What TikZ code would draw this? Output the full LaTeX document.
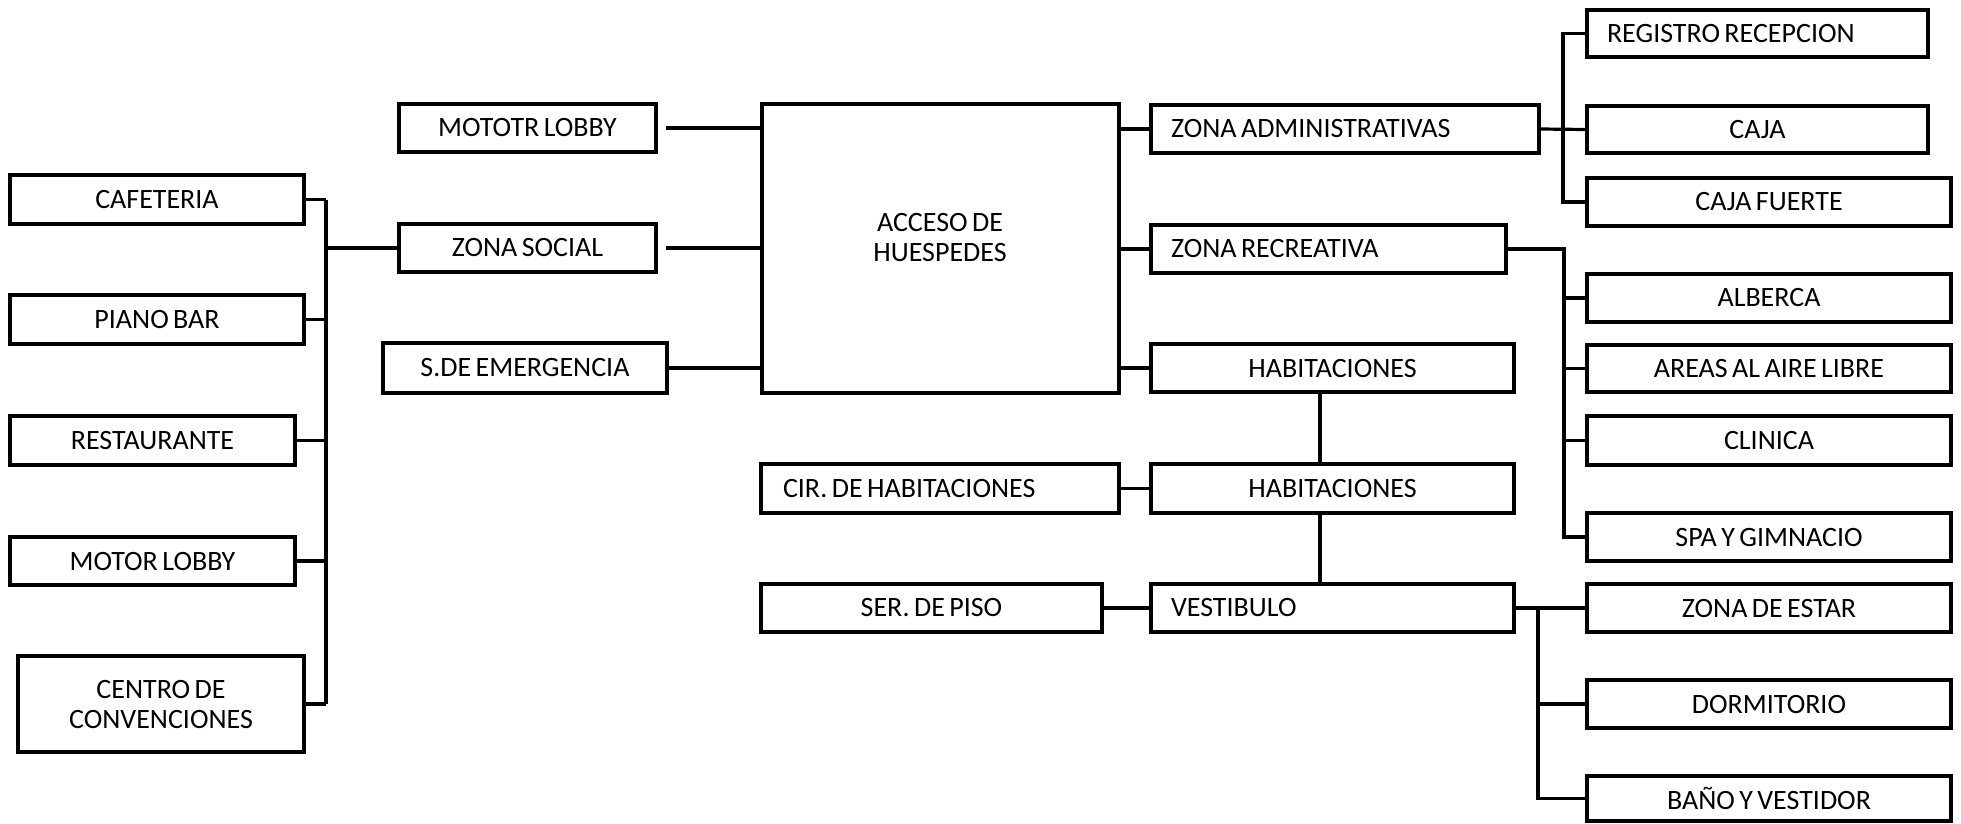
\documentclass[tikz,border=0pt]{standalone}
\usepackage{fontspec}
\setmainfont[WordSpace=0.7]{Carlito}
\newcommand\lefttext[2]{\makebox[#1][l]{#2}}
\begin{document}
\frenchspacing
\begin{tikzpicture}[x=1pt,y=-1pt,
  box/.style={draw, line width=3.4pt, inner xsep=0pt, inner ysep=0pt, align=center,
    minimum height=48pt, font=\fontsize{28}{30}\selectfont},
  wire/.style={line width=3.2pt}]
\useasboundingbox (0,0) rectangle (1961,823);
% left column
\node[box, minimum width=294pt, minimum height=49pt] (caf) at (157,199.5) {CAFETERIA};
\node[box, minimum width=294pt, minimum height=49pt] (piano) at (157,319.5) {PIANO BAR};
\node[box, minimum width=285pt, minimum height=49pt] (rest) at (152.5,440.5) {RESTAURANTE};
\node[box, minimum width=285pt] (motor) at (152.5,561) {MOTOR LOBBY};
\node[box, minimum width=286pt, minimum height=96pt] (centro) at (161,704) {CENTRO DE\\CONVENCIONES};
% second column
\node[box, minimum width=257pt] (mototr) at (527.5,128) {MOTOTR LOBBY};
\node[box, minimum width=257pt] (zsoc) at (527.5,248) {ZONA SOCIAL};
\node[box, minimum width=284pt, minimum height=50pt] (semerg) at (525,368) {S.DE EMERGENCIA};
% center
\node[box, minimum width=357pt, minimum height=289pt] (acceso) at (940.5,248.5) {};
\node[font=\fontsize{28}{30}\selectfont, align=center, inner sep=0pt] (accesotxt) at (940,238) {ACCESO DE\\HUESPEDES};
% third column
\node[box, minimum width=388pt] (zadmin) at (1345,129) {\lefttext{348pt}{ZONA ADMINISTRATIVAS}};
\node[box, minimum width=355pt] (zrec) at (1328.5,249) {\lefttext{315pt}{ZONA RECREATIVA}};
\node[box, minimum width=363pt] (hab1) at (1332.5,368) {HABITACIONES};
\node[box, minimum width=363pt, minimum height=49pt] (hab2) at (1332.5,488.5) {HABITACIONES};
\node[box, minimum width=358pt, minimum height=49pt] (cir) at (940,488.5) {\lefttext{314pt}{CIR. DE HABITACIONES}};
\node[box, minimum width=341pt] (ser) at (931.5,608) {SER. DE PISO};
\node[box, minimum width=363pt] (vest) at (1332.5,608) {\lefttext{323pt}{VESTIBULO}};
% right column
\node[box, minimum width=341pt, minimum height=47pt] (reg) at (1757.5,33.5) {\lefttext{301pt}{REGISTRO RECEPCION}};
\node[box, minimum width=341pt, minimum height=47pt] (caja) at (1757.5,129.5) {CAJA};
\node[box, minimum width=364pt] (cajaf) at (1769,202) {CAJA FUERTE};
\node[box, minimum width=364pt] (alb) at (1769,298) {ALBERCA};
\node[box, minimum width=364pt, minimum height=47pt] (areas) at (1769,368.5) {AREAS AL AIRE LIBRE};
\node[box, minimum width=364pt, minimum height=49pt] (clin) at (1769,440.5) {CLINICA};
\node[box, minimum width=364pt] (spa) at (1769,537) {SPA Y GIMNACIO};
\node[box, minimum width=364pt] (estar) at (1769,608) {ZONA DE ESTAR};
\node[box, minimum width=364pt] (dorm) at (1769,704) {DORMITORIO};
\node[box, minimum width=364pt, minimum height=45pt] (bano) at (1769,798.5) {BAÑO Y VESTIDOR};
% bus coordinates
\coordinate (lb) at (326,0);
\coordinate (ab) at (1563,0);
\coordinate (rb) at (1564,0);
\coordinate (vb) at (1538,0);
% left connectors
\foreach \n in {caf,piano,rest,motor,centro}
  \draw[wire] (\n.east) -- (\n.east -| lb);
\draw[wire] (caf.east -| lb) -- (centro.east -| lb);
\draw[wire] (zsoc.west -| lb) -- (zsoc.west);
% to acceso
\draw[wire] ([xshift=8pt]mototr.east) -- (mototr.east -| acceso.west);
\draw[wire] ([xshift=8pt]zsoc.east) -- (zsoc.east -| acceso.west);
\draw[wire] (semerg.east) -- (semerg.east -| acceso.west);
\draw[wire] (zadmin.west -| acceso.east) -- (zadmin.west);
\draw[wire] (zrec.west -| acceso.east) -- (zrec.west);
\draw[wire] (hab1.west -| acceso.east) -- (hab1.west);
\draw[wire] (cir.east) -- (hab2.west);
\draw[wire] (ser.east) -- (vest.west);
\draw[wire] ([xshift=-12.5pt]hab1.south) -- ([xshift=-12.5pt]hab2.north);
\draw[wire] ([xshift=-12.5pt]hab2.south) -- ([xshift=-12.5pt]vest.north);
% admin
\draw[wire] (zadmin.east) -- (caja.west);
\draw[wire] (reg.west) -- (reg.west -| ab) -- (cajaf.west -| ab) -- (cajaf.west);
% recreativa
\draw[wire] (zrec.east) -- (zrec.east -| rb) -- (spa.west -| rb) -- (spa.west);
\foreach \n in {alb,areas,clin}
  \draw[wire] (\n.west -| rb) -- (\n.west);
% vestibulo
\draw[wire] (vest.east) -- (estar.west);
\draw[wire] (vest.east -| vb) -- (bano.west -| vb) -- (bano.west);
\draw[wire] (dorm.west -| vb) -- (dorm.west);
\end{tikzpicture}
\end{document}
